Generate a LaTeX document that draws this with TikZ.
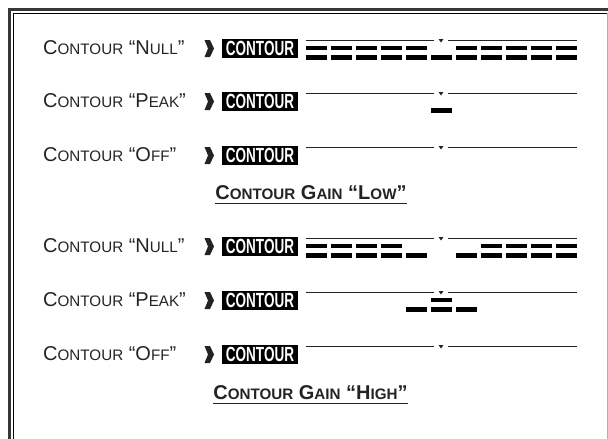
\documentclass[tikz,border=0pt]{standalone}
\usepackage{fontspec}
\setmainfont{Liberation Sans}
\newfontfamily\badgefont[FakeStretch=0.66]{Liberation Sans}
\usetikzlibrary{positioning}
\definecolor{inkgray}{RGB}{35,35,35}
\definecolor{framegray}{RGB}{55,55,55}
\definecolor{edgegray}{RGB}{175,175,175}
\newcommand{\smc}[1]{{\fontsize{15.2}{16}\selectfont #1}}
\newcommand{\smcb}[1]{{\fontsize{15.2}{16}\selectfont #1}}

\begin{document}
\begin{tikzpicture}[x=1pt, y=-1pt,
  lbl/.style={anchor=west, inner sep=0, font=\fontsize{20}{22}\selectfont, text=inkgray},
  badge/.style={fill=black, text=white, inner sep=0, minimum width=76, minimum height=19, font=\badgefont\bfseries\fontsize{20.5}{21}\selectfont},
  gain/.style={anchor=base, inner sep=0, font=\bfseries\fontsize{20}{22}\selectfont, text=inkgray},
  rule/.style={draw=inkgray, line width=1.4pt},
  uline/.style={draw=inkgray, line width=1.3pt},
  seg/.style={fill=black}
]
  \useasboundingbox (0,0) rectangle (608,439);

  % Frame (double line, open at the bottom)
  \draw[framegray, line width=3pt] (9.5,439) -- (9.5,9.5) -- (608,9.5);
  \draw[black, line width=0.9pt] (13,439) -- (13,13) -- (607,13);
  \draw[edgegray, line width=1pt] (607,13) -- (607,439);

  % Common parts of each row: chevron, badge, level rule with centre mark
  \foreach \C/\nm in {48/a, 101/b, 155/c, 246/d, 300/e, 354/f} {
    \fill[inkgray] (204.5,\C-8) -- (210,\C-8) -- (214,\C+0.5) -- (210,\C+9) -- (204.5,\C+9) -- (208,\C+0.5) -- cycle;
    \node[badge] (badge\nm) at (260,\C+0.5) {CONTOUR};
    \draw[rule] (306,\C-7.5) -- (434,\C-7.5);
    \draw[rule] (448,\C-7.5) -- (577,\C-7.5);
    \fill[inkgray] (438.5,\C-9) -- (443.5,\C-9) -- (441,\C-5.5) -- cycle;
  }

  % Gain "Low"
  \node[lbl] (nullLow) at (43,48) {C\smc{ONTOUR} “N\smc{ULL}”};
  \node[lbl] (peakLow) at (43,101) {C\smc{ONTOUR} “P\smc{EAK}”};
  \node[lbl] (offLow) at (43,155) {C\smc{ONTOUR} “O\smc{FF}”};
  \foreach \i in {1,2,3,4,5,7,8,9,10,11}
    \fill[seg] ({306+25*(\i-1)},45.5) rectangle ++(21,4.5);
  \foreach \i in {1,...,11}
    \fill[seg] ({306+25*(\i-1)},55) rectangle ++(21,5);
  \fill[seg] (431,108) rectangle ++(21,5);
  \node[gain] (gainLow) at (311,199) {C\smcb{ONTOUR} G\smcb{AIN} “L\smcb{OW}”};
  \draw[uline] ([yshift=-4.5pt]gainLow.base west) -- ([yshift=-4.5pt]gainLow.base east);

  % Gain "High"
  \node[lbl] (nullHigh) at (43,246) {C\smc{ONTOUR} “N\smc{ULL}”};
  \node[lbl] (peakHigh) at (43,300) {C\smc{ONTOUR} “P\smc{EAK}”};
  \node[lbl] (offHigh) at (43,354) {C\smc{ONTOUR} “O\smc{FF}”};
  \foreach \i in {1,2,3,4,8,9,10,11}
    \fill[seg] ({306+25*(\i-1)},243.5) rectangle ++(21,4.5);
  \foreach \i in {1,2,3,4,5,7,8,9,10,11}
    \fill[seg] ({306+25*(\i-1)},253) rectangle ++(21,5);
  \fill[seg] (431,297.5) rectangle ++(21,4.5);
  \foreach \i in {5,6,7}
    \fill[seg] ({306+25*(\i-1)},307) rectangle ++(21,5);
  \node[gain] (gainHigh) at (310.5,399) {C\smcb{ONTOUR} G\smcb{AIN} “H\smcb{IGH}”};
  \draw[uline] ([yshift=-4.5pt]gainHigh.base west) -- ([yshift=-4.5pt]gainHigh.base east);

\end{tikzpicture}
\end{document}
